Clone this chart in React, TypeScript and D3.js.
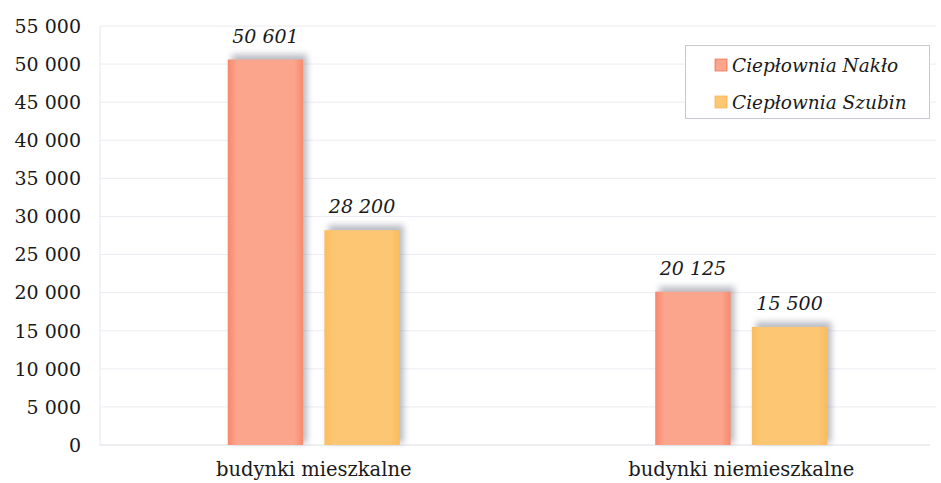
import React from "react";
import * as d3 from "d3";

const categories = ["budynki mieszkalne", "budynki niemieszkalne"];
const seriesNames = ["Ciepłownia Nakło", "Ciepłownia Szubin"];
const naklo = [50601, 20125];
const szubin = [28200, 15500];
const yTicks = [0, 5000, 10000, 15000, 20000, 25000, 30000, 35000, 40000, 45000, 50000, 55000];

const W = 941, H = 483;
const left = 100, gridRight = 936, bottom = 445, top = 26;
const fmt = (v: number) => d3.format(",")(v).replace(/,/g, " ");

export default function App() {
  const x0 = d3.scaleBand().domain(categories).range([left, 955]);
  const x1 = d3.scaleBand().domain(seriesNames).range([0, 172]).paddingInner(0.22);
  const y = d3.scaleLinear().domain([0, 55000]).range([bottom, top]);
  const fonts = "'DejaVu Serif', serif";
  const colors = ["url(#gN)", "url(#gS)"];
  const series = [naklo, szubin];
  return (
    <svg width={W} height={H} style={{ position: "absolute", left: 0, top: 0, background: "#fff" }}>
      <defs>
        <linearGradient id="gN" x1="0" x2="1" y1="0" y2="0">
          <stop offset="0" stopColor="#f7876c" />
          <stop offset="0.12" stopColor="#fba58c" />
          <stop offset="0.88" stopColor="#fba58c" />
          <stop offset="1" stopColor="#f68a6e" />
        </linearGradient>
        <linearGradient id="gS" x1="0" x2="1" y1="0" y2="0">
          <stop offset="0" stopColor="#fbbd62" />
          <stop offset="0.12" stopColor="#fdc672" />
          <stop offset="0.88" stopColor="#fdc672" />
          <stop offset="1" stopColor="#f9bb60" />
        </linearGradient>
        <filter id="blur" x="-20%" y="-20%" width="140%" height="140%">
          <feGaussianBlur stdDeviation="3" />
        </filter>
      </defs>
      {yTicks.map((t) => (
        <g key={t}>
          <line x1={left} x2={t === 0 ? 930 : gridRight} y1={y(t)} y2={y(t)} stroke={t === 0 ? "#dcdce6" : "#ececf2"} strokeWidth={1} />
          <text x={81} y={y(t)} dy="0.36em" textAnchor="end" fontFamily={fonts} fontSize={19} fill="#1a1a1a">{fmt(t)}</text>
        </g>
      ))}
      <line x1={left} x2={left} y1={top} y2={bottom} stroke="#e4e4ee" />
      {categories.map((c, ci) => {
        const gx = (x0(c) as number) + x0.bandwidth() / 2 - 86;
        return (
          <g key={c}>
            {seriesNames.map((s, si) => {
              const v = series[si][ci];
              const bx = gx + (x1(s) as number);
              const bw = x1.bandwidth();
              return (
                <g key={s}>
                  <rect x={bx + 4} y={y(v) - 5} width={bw} height={bottom - y(v) + 3} fill="#8a8f9c" opacity={0.6} filter="url(#blur)" />
                  <rect x={bx} y={y(v)} width={bw} height={bottom - y(v)} fill={colors[si]} />
                  <text x={bx + bw / 2} y={y(v) - 17} textAnchor="middle" fontFamily={fonts} fontStyle="italic" fontSize={19} fill="#1a1a1a">{fmt(v)}</text>
                </g>
              );
            })}
            <text x={gx + 86} y={476} textAnchor="middle" fontFamily={fonts} fontSize={19.5} fill="#1a1a1a">{c}</text>
          </g>
        );
      })}
      <rect x={685.5} y={45.5} width={244} height={73} fill="#fff" stroke="#c8c8d0" />
      {seriesNames.map((s, i) => (
        <g key={s}>
          <rect x={715} y={59 + i * 37} width={12} height={12} fill={colors[i]} stroke={i === 0 ? "#f07a60" : "#f8b95a"} strokeWidth={0.8} />
          <text x={732} y={65 + i * 37} dy="0.36em" fontFamily={fonts} fontStyle="italic" fontSize={18.5} fill="#1a1a1a">{s}</text>
        </g>
      ))}
    </svg>
  );
}
